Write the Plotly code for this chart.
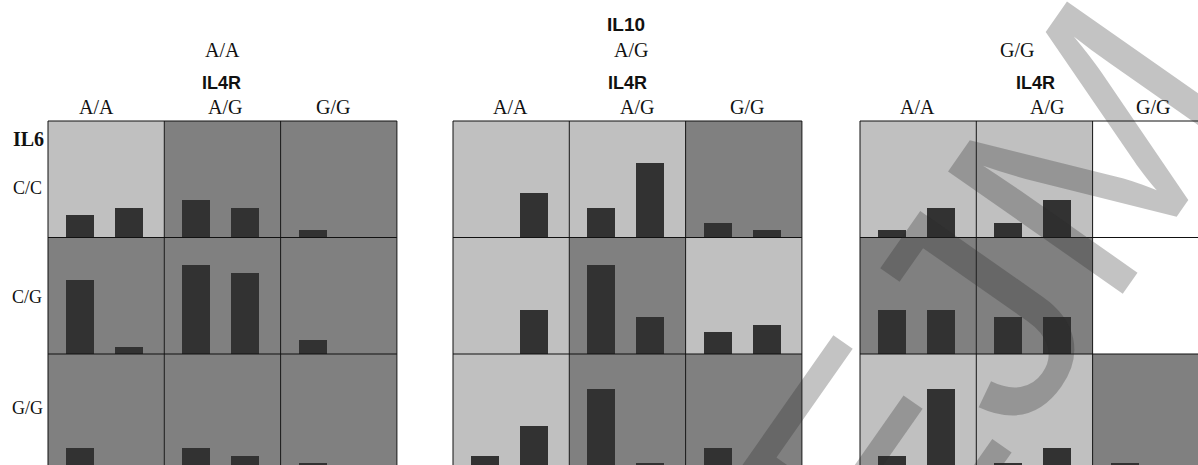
import plotly.graph_objects as go

# ---------------- data ----------------
il10_genotypes = ["A/A", "A/G", "G/G"]       # panels
il4r_genotypes = ["A/A", "A/G", "G/G"]       # columns in each panel
il6_genotypes = ["C/C", "C/G", "G/G"]        # rows
bar_positions = [0, 1]                       # two bars per cell

# counts[row][col] = [bar1, bar2]; None = no cell data
counts_il10_AA = [[[3, 4], [5, 4], [1, 0]],
                  [[10, 1], [12, 11], [2, 0]],
                  [[3, 0], [3, 2], [1, 0]]]
counts_il10_AG = [[[0, 6], [4, 10], [2, 1]],
                  [[0, 6], [12, 5], [3, 4]],
                  [[2, 6], [11, 1], [3, 0]]]
counts_il10_GG = [[[1, 4], [2, 5], None],
                  [[6, 6], [5, 5], None],
                  [[2, 11], [1, 3], [1, 0]]]

# background shade of each cell: L = light, D = dark, W = white (empty)
shade_il10_AA = [["L", "D", "D"], ["D", "D", "D"], ["D", "D", "D"]]
shade_il10_AG = [["L", "L", "D"], ["L", "D", "L"], ["L", "D", "D"]]
shade_il10_GG = [["L", "L", "W"], ["D", "D", "W"], ["L", "L", "D"]]

panels_counts = [counts_il10_AA, counts_il10_AG, counts_il10_GG]
panels_shade = [shade_il10_AA, shade_il10_AG, shade_il10_GG]

watermark_text = "EJM"

# ---------------- layout geometry (screen pixels) ----------------
SW, SH = 1198, 465          # browser window
OX, OY = 0, 0               # page body margin (removed by post script)
FW, FH = SW - OX, SH - OY   # figure size
panel_left = [48, 453, 860]
cell_w = 116.3
row_top = [121, 237.5, 354]
cell_h = 116.5
px_per_count = 7.45
px_per_xunit = 49.0
x_left_val = -32.0 / px_per_xunit
bar_w = 0.59

shade_colors = {"L": "#c0c0c0", "D": "#808080", "W": "#ffffff"}
bar_color = "#323232"


def px(x):
    return (x - OX) / FW


def py(y):
    return 1 - (y - OY) / FH


fig = go.Figure()
layout_axes = {}
shapes = []
n = 0
for p in range(3):
    for r in range(3):
        for c in range(3):
            n += 1
            xname = "x" if n == 1 else f"x{n}"
            yname = "y" if n == 1 else f"y{n}"
            x0 = panel_left[p] + c * cell_w
            x1 = x0 + cell_w
            x1c = min(x1, SW)
            y0 = row_top[r]
            y1 = y0 + cell_h
            y1c = min(y1, SH)
            xr = [x_left_val, x_left_val + (x1c - x0) / px_per_xunit]
            yr = [(y1 - y1c) / px_per_count, cell_h / px_per_count]
            ax_common = dict(visible=False, showgrid=False, zeroline=False, fixedrange=True)
            layout_axes["xaxis" if n == 1 else f"xaxis{n}"] = dict(
                domain=[px(x0), min(px(x1c), 1.0)], range=xr, anchor=yname, **ax_common)
            layout_axes["yaxis" if n == 1 else f"yaxis{n}"] = dict(
                domain=[max(py(y1c), 0.0), py(y0)], range=yr, anchor=xname, **ax_common)
            # background of the cell
            shapes.append(dict(type="rect", xref=xname, yref=yname,
                               x0=x_left_val, x1=x_left_val + cell_w / px_per_xunit,
                               y0=0, y1=cell_h / px_per_count,
                               fillcolor=shade_colors[panels_shade[p][r][c]],
                               line=dict(width=0), layer="below"))
            vals = panels_counts[p][r][c]
            if vals is not None:
                fig.add_trace(go.Bar(x=bar_positions, y=vals, width=bar_w,
                                     marker=dict(color=bar_color, line=dict(width=0)),
                                     xaxis=xname, yaxis=yname, showlegend=False,
                                     hoverinfo="y"))

# grid lines
line_style = dict(color="#111111", width=1)
for p in range(3):
    left = panel_left[p]
    right = min(left + 3 * cell_w, SW)
    for r in range(3):
        yv = row_top[r]
        shapes.append(dict(type="line", xref="paper", yref="paper",
                           x0=px(left), x1=px(right), y0=py(yv), y1=py(yv), line=line_style))
    for c in range(4):
        xv = left + c * cell_w
        if xv <= SW:
            shapes.append(dict(type="line", xref="paper", yref="paper",
                               x0=px(xv), x1=px(xv), y0=py(row_top[0]), y1=0, line=line_style))

# ---------------- text ----------------
serif = "Liberation Serif, Times New Roman, serif"
sans = "Liberation Sans, Arial, sans-serif"
ann = []


def add_text(txt, x, y, font, size, bold=False, color="#111111"):
    ann.append(dict(text=f"<b>{txt}</b>" if bold else txt, x=px(x), y=py(y),
                    xref="paper", yref="paper", showarrow=False,
                    xanchor="center", yanchor="middle",
                    font=dict(family=font, size=size, color=color)))


add_text("IL10", 626, 25, sans, 19, bold=True)
panel_title_x = [222, 631, 1017]
il4r_x = [221, 627, 1035]
col_label_x = [[96, 225, 333], [510, 637, 747], [917, 1047, 1153]]
for p in range(3):
    add_text(il10_genotypes[p], panel_title_x[p], 50, serif, 20)
    add_text("IL4R", il4r_x[p], 83, sans, 18, bold=True)
    for c in range(3):
        add_text(il4r_genotypes[c], col_label_x[p][c], 107, serif, 20)

add_text("IL6", 28, 139, serif, 20, bold=True)
row_label_y = [188, 297, 408]
for r in range(3):
    add_text(il6_genotypes[r], 27, row_label_y[r], serif, 18)

# semi-transparent watermark across the right half
ann.append(dict(text=watermark_text, x=px(990), y=py(295), xref="paper", yref="paper",
                showarrow=False, xanchor="center", yanchor="middle", textangle=-55,
                font=dict(family=sans, size=310, color="rgba(40,40,40,0.28)")))

fig.update_layout(width=FW, height=FH, margin=dict(l=0, r=0, t=0, b=0),
                  paper_bgcolor="white", plot_bgcolor="rgba(0,0,0,0)",
                  shapes=shapes, annotations=ann, bargap=0, **layout_axes)

fig.write_html("out.html", config={"displayModeBar": False},
               post_script="document.body.style.margin='0';document.body.style.overflow='hidden';")
